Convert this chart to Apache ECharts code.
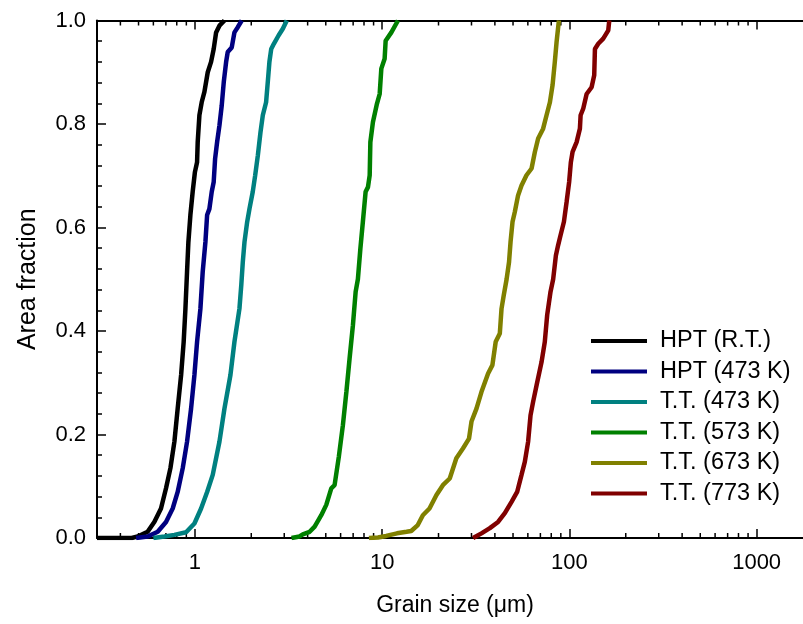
<!DOCTYPE html>
<html>
<head>
<meta charset="utf-8">
<script src="https://cdn.jsdelivr.net/npm/echarts@6/dist/echarts.min.js"></script>
<style>
html,body{margin:0;padding:0;background:#fff;}
#chart{width:803px;height:624px;}
</style>
</head>
<body>
<div id="chart"></div>
<script>
// ---- Data (grain size in µm, cumulative area fraction) ----
const seriesNames = ['HPT (R.T.)', 'HPT (473 K)', 'T.T. (473 K)', 'T.T. (573 K)', 'T.T. (673 K)', 'T.T. (773 K)'];

const hptRT_x = [0.30, 0.46, 0.495, 0.559, 0.607, 0.659, 0.701, 0.740, 0.777, 0.809, 0.844, 0.871, 0.890, 0.908, 0.923, 0.946, 0.973, 1.000, 1.027, 1.035, 1.057, 1.087, 1.124, 1.171, 1.22, 1.26, 1.298, 1.352, 1.438];
const hptRT_y = [0, 0, 0.003, 0.012, 0.031, 0.057, 0.096, 0.135, 0.186, 0.250, 0.315, 0.379, 0.443, 0.515, 0.572, 0.624, 0.669, 0.707, 0.726, 0.765, 0.817, 0.842, 0.862, 0.900, 0.920, 0.945, 0.977, 0.990, 1.0];

const hpt473_x = [0.485, 0.559, 0.633, 0.701, 0.761, 0.809, 0.861, 0.908, 0.954, 0.994, 1.027, 1.070, 1.101, 1.138, 1.162, 1.195, 1.23, 1.26, 1.282, 1.314, 1.352, 1.391, 1.426, 1.468, 1.497, 1.573, 1.626, 1.694, 1.779];
const hpt473_y = [0, 0.003, 0.012, 0.031, 0.057, 0.089, 0.135, 0.186, 0.250, 0.315, 0.379, 0.443, 0.515, 0.572, 0.624, 0.636, 0.669, 0.688, 0.733, 0.765, 0.797, 0.836, 0.881, 0.920, 0.939, 0.948, 0.977, 0.987, 1.0];

const tt473_x = [0.60, 0.687, 0.777, 0.897, 0.994, 1.079, 1.162, 1.245, 1.352, 1.438, 1.548, 1.626, 1.729, 1.77, 1.802, 1.84, 1.902, 1.956, 2.037, 2.099, 2.168, 2.24, 2.305, 2.40, 2.45, 2.50, 2.556, 2.64, 2.797, 2.948, 3.096];
const tt473_y = [0, 0.003, 0.006, 0.011, 0.028, 0.057, 0.089, 0.122, 0.186, 0.250, 0.315, 0.379, 0.443, 0.49, 0.533, 0.572, 0.611, 0.636, 0.669, 0.701, 0.739, 0.784, 0.817, 0.842, 0.881, 0.920, 0.945, 0.955, 0.971, 0.984, 1.0];

const tt573_x = [3.28, 3.62, 3.77, 4.10, 4.36, 4.73, 5.03, 5.35, 5.57, 5.87, 6.17, 6.44, 6.70, 6.98, 7.22, 7.42, 7.65, 7.89, 8.16, 8.40, 8.58, 8.65, 8.93, 9.38, 9.70, 9.90, 10.31, 10.44, 11.2, 12.15];
const tt573_y = [0, 0.003, 0.007, 0.012, 0.022, 0.044, 0.064, 0.096, 0.102, 0.157, 0.218, 0.282, 0.347, 0.411, 0.476, 0.50, 0.559, 0.611, 0.669, 0.678, 0.701, 0.765, 0.804, 0.839, 0.858, 0.907, 0.926, 0.961, 0.977, 1.0];

const tt673_x = [8.5, 9.5, 10.5, 12.0, 13.5, 14.3, 15.5, 16.5, 17.9, 19.5, 21.1, 22.96, 24.9, 27.0, 29.1, 30.0, 31.9, 33.9, 36.8, 38.8, 40.4, 42.5, 43.4, 44.6, 46.2, 47.6, 48.5, 49.7, 51.1, 53.2, 55.5, 59.0, 62.8, 65.4, 68.1, 72.4, 75.5, 78.7, 81.3, 83.6, 85.4, 87.9];
const tt673_y = [0, 0.001, 0.004, 0.009, 0.012, 0.0135, 0.025, 0.044, 0.057, 0.083, 0.102, 0.115, 0.154, 0.173, 0.192, 0.225, 0.250, 0.282, 0.318, 0.334, 0.379, 0.395, 0.443, 0.469, 0.50, 0.533, 0.572, 0.611, 0.630, 0.662, 0.681, 0.701, 0.714, 0.746, 0.772, 0.791, 0.817, 0.842, 0.875, 0.920, 0.958, 1.0];

const tt773_x = [30.6, 33.9, 37.6, 41.6, 45.2, 49.1, 52.6, 55.5, 57.8, 60.2, 62.0, 64.0, 66.8, 71.0, 73.9, 76.1, 79.3, 81.9, 84.7, 87.1, 89.7, 93.5, 96.6, 99.7, 101.8, 104.0, 109.3, 113.8, 114.8, 118.6, 123.6, 131.4, 135.7, 136.9, 142.6, 151.6, 161.3, 163.3];
const tt773_y = [0, 0.009, 0.019, 0.031, 0.048, 0.070, 0.089, 0.122, 0.147, 0.186, 0.237, 0.263, 0.295, 0.340, 0.379, 0.431, 0.476, 0.50, 0.546, 0.566, 0.585, 0.611, 0.649, 0.688, 0.726, 0.746, 0.765, 0.791, 0.817, 0.830, 0.858, 0.871, 0.894, 0.945, 0.955, 0.965, 0.981, 1.0];

const minorTickValues = [0.4, 0.5, 0.6, 0.7, 0.8, 0.9, 2, 3, 4, 5, 6, 7, 8, 9, 20, 30, 40, 50, 60, 70, 80, 90, 200, 300, 400, 500, 600, 700, 800, 900];

const xMin = 0.3, xMax = 2000;
const yTicksFormat = v => v.toFixed(1);

// ---- Build ----
const FONT = "'Liberation Sans', Arial, sans-serif";
const colors = ['#000000', '#000080', '#008080', '#008000', '#808000', '#800000'];
const xs = [hptRT_x, hpt473_x, tt473_x, tt573_x, tt673_x, tt773_x];
const ys = [hptRT_y, hpt473_y, tt473_y, tt573_y, tt673_y, tt773_y];

function pairs(a, b) { return a.map((v, i) => [v, b[i]]); }

function isPow10(v) {
  const l = Math.log10(v);
  return Math.abs(l - Math.round(l)) < 1e-6;
}

const lineSeries = seriesNames.map((name, i) => ({
  name: name,
  type: 'line',
  data: pairs(xs[i], ys[i]),
  showSymbol: false,
  symbol: 'none',
  smooth: false,
  lineStyle: { color: colors[i], width: 4.5 },
  itemStyle: { color: colors[i] },
  z: 3 + i
}));

const minorSeries = {
  type: 'custom',
  silent: true,
  z: 1,
  data: minorTickValues.map(v => [v, 0.5]),
  encode: { x: 0, y: 1 },
  renderItem: function (params, api) {
    const x = api.coord([api.value(0), 0.5])[0];
    const cs = params.coordSys;
    const st = { stroke: '#000', lineWidth: 1.5 };
    return {
      type: 'group',
      children: [
        { type: 'line', shape: { x1: x, y1: cs.y + cs.height, x2: x, y2: cs.y + cs.height - 5 }, style: st },
        { type: 'line', shape: { x1: x, y1: cs.y, x2: x, y2: cs.y + 5 }, style: st }
      ]
    };
  }
};

const axisCommon = {
  axisLine: { show: true, onZero: false, lineStyle: { color: '#000', width: 2 } },
  splitLine: { show: false }
};

const option = {
  animation: false,
  backgroundColor: '#fff',
  grid: { left: 97, top: 20.5, width: 716, height: 517.5, containLabel: false, outerBoundsMode: 'none' },
  legend: {
    data: seriesNames,
    orient: 'vertical',
    left: 591,
    top: 329,
    padding: 0,
    icon: 'rect',
    itemWidth: 56,
    itemHeight: 4,
    itemGap: 6.5,
    textStyle: { fontFamily: FONT, fontSize: 23.5, lineHeight: 24, color: '#000', padding: [0, 0, 0, 8] }
  },
  xAxis: [
    Object.assign({}, axisCommon, {
      type: 'log', logBase: 10, min: xMin, max: xMax, position: 'bottom',
      axisTick: { show: true, inside: true, length: 9, lineStyle: { color: '#000', width: 1.5 } },
      axisLabel: {
        fontFamily: FONT, fontSize: 22, color: '#000', margin: 14,
        formatter: v => isPow10(v) ? String(Math.round(v)) : ''
      },
      name: 'Grain size (\u03bcm)',
      nameLocation: 'middle',
      nameGap: 56,
      nameTextStyle: { fontFamily: FONT, fontSize: 23, color: '#000' }
    }),
    Object.assign({}, axisCommon, {
      type: 'log', logBase: 10, min: xMin, max: xMax, position: 'top',
      axisTick: { show: true, inside: true, length: 9, lineStyle: { color: '#000', width: 1.5 } },
      axisLabel: { show: false }
    })
  ],
  yAxis: [
    Object.assign({}, axisCommon, {
      type: 'value', min: 0, max: 1, interval: 0.2,
      axisTick: { show: true, inside: true, length: 9, lineStyle: { color: '#000', width: 1.5 } },
      minorTick: { show: true, splitNumber: 5, length: 5, lineStyle: { color: '#000', width: 1.5 } },
      axisLabel: { fontFamily: FONT, fontSize: 22, color: '#000', margin: 11, formatter: yTicksFormat },
      name: 'Area fraction',
      nameLocation: 'middle',
      nameGap: 56,
      nameRotate: 90,
      nameTextStyle: { fontFamily: FONT, fontSize: 25, color: '#000' }
    })
  ],
  series: [minorSeries].concat(lineSeries)
};

const chart = echarts.init(document.getElementById('chart'), null, { renderer: 'canvas' });
chart.setOption(option);
</script>
</body>
</html>
